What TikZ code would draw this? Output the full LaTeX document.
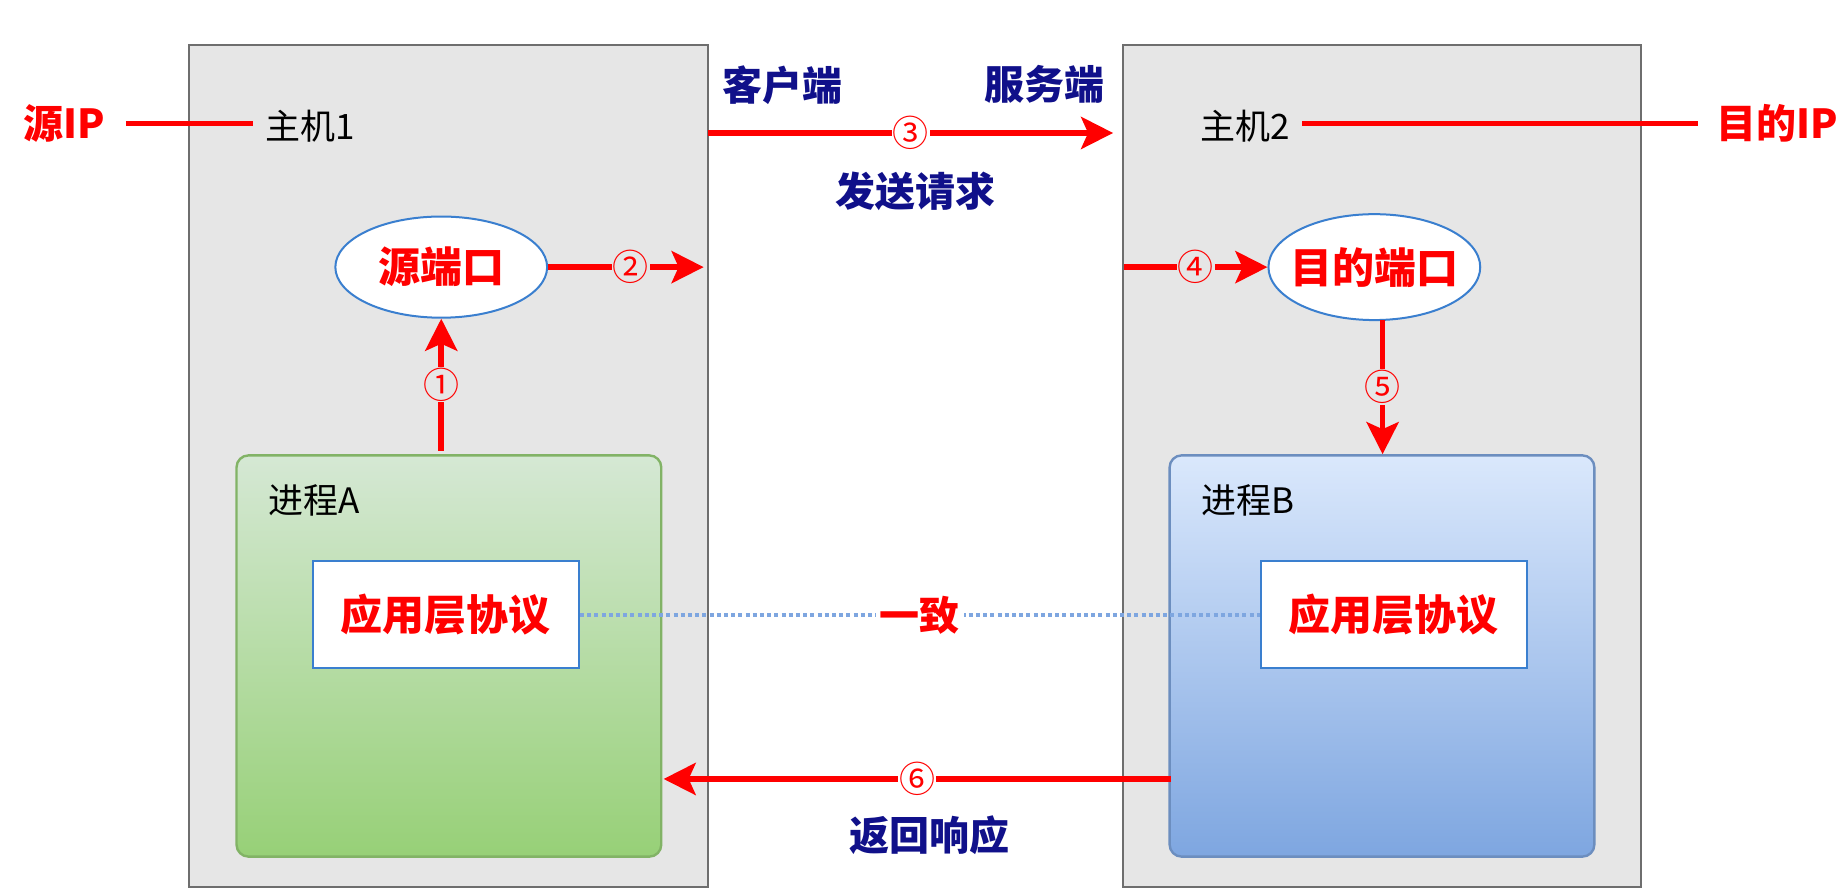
\documentclass[tikz,border=0pt]{standalone}
\usepackage{fontspec}
\setmainfont{Noto Sans CJK SC}
\usetikzlibrary{shapes.geometric,arrows.meta}
\definecolor{hostgray}{HTML}{E6E6E6}
\definecolor{hostedge}{HTML}{6E6E6E}
\definecolor{navy}{HTML}{10108A}
\definecolor{rd}{HTML}{FF0000}
\definecolor{elblue}{HTML}{3A7FCF}
\definecolor{greentop}{HTML}{D5E8D4}
\definecolor{greenbot}{HTML}{97D077}
\definecolor{greenedge}{HTML}{82B366}
\definecolor{bluetop}{HTML}{DAE8FC}
\definecolor{bluebot}{HTML}{7EA6E0}
\definecolor{blueedge}{HTML}{6C8EBF}
\definecolor{dotblue}{HTML}{7EA6E0}
\newcommand\pxl[1]{#1*0.5883pt}
\tikzset{
  hostbox/.style={draw=hostedge, fill=hostgray, line width=1pt, rectangle, inner sep=0pt},
  procA/.style={draw=greenedge, top color=greentop, bottom color=greenbot, line width=1.2pt, rounded corners=6pt, rectangle, inner sep=0pt},
  procB/.style={draw=blueedge, top color=bluetop, bottom color=bluebot, line width=1.2pt, rounded corners=6pt, rectangle, inner sep=0pt},
  appbox/.style={draw=elblue, fill=white, line width=1pt, rectangle, inner sep=0pt,
    minimum width=\pxl{226}, minimum height=\pxl{91}, text=rd, font=\fontsize{21pt}{24pt}\selectfont\bfseries},
  portel/.style={ellipse, draw=elblue, fill=white, line width=1pt, inner sep=0pt,
    minimum width=\pxl{180}, minimum height=\pxl{86}},
  porttext/.style={text=rd, font=\fontsize{21pt}{24pt}\selectfont\bfseries, inner sep=0pt},
  redlbl/.style={text=rd, font=\fontsize{20pt}{24pt}\selectfont\bfseries, inner sep=0pt},
  navylbl/.style={text=navy, font=\fontsize{20pt}{24pt}\selectfont\bfseries, inner sep=0pt},
  plainlbl/.style={text=black, font=\fontsize{17.5pt}{20pt}\selectfont, inner sep=0pt},
  flow/.style={draw=rd, line width=2.8pt, -{Stealth[length=16pt,width=16pt,inset=3.5pt]}},
  ipline/.style={draw=rd, line width=2.2pt},
  num/.style={text=rd, font=\fontsize{18pt}{20pt}\selectfont, inner sep=0.5pt},
}
\begin{document}
\begin{tikzpicture}[x=0.5883pt, y=-0.5883pt]
\useasboundingbox (0,0) rectangle (1568,756);
% hosts
\node[hostbox, minimum width=\pxl{441}, minimum height=\pxl{716}] (h1) at (381.5,396) {};
\node[hostbox, minimum width=\pxl{441}, minimum height=\pxl{716}] (h2) at (1174.5,396) {};
% processes
\node[procA, minimum width=\pxl{361}, minimum height=\pxl{341}] (pA) at (381.5,557.5) {};
\node[procB, minimum width=\pxl{361}, minimum height=\pxl{341}] (pB) at (1174.5,557.5) {};
\node[plainlbl, anchor=west] (pAl) at (228,425) {进程A};
\node[plainlbl, anchor=west] (pBl) at (1021,425) {进程B};
% app protocol boxes
\node[appbox] (appA) at (379,522.5) {应用层协议};
\node[appbox] (appB) at (1184.5,522.5) {应用层协议};
% ports
\node[portel] (sp) at (375,227) {};
\node[porttext] (spt) at (sp.center) {源端口};
\node[portel, minimum height=\pxl{90}] (dp) at (1168,227) {};
\node[porttext] (dpt) at (dp.center) {目的端口};
% host labels and IP
\node[plainlbl, anchor=west] (m1) at (225,107) {主机1};
\node[plainlbl, anchor=west] (m2) at (1020,107) {主机2};
\node[redlbl] (sip) at (55,105) {源IP};
\node[redlbl] (dip) at (1510,105) {目的IP};
\draw[ipline, shorten <=10pt, shorten >=6pt] (sip.east) -- (sip.east -| m1.west);
\draw[ipline, shorten <=6pt, shorten >=9pt] (m2.east |- dip.west) -- (dip.west);
% side labels
\node[navylbl] (cli) at (665,72) {客户端};
\node[navylbl] (srv) at (888,72) {服务端};
\node[navylbl] (req) at (778,163) {发送请求};
\node[navylbl] (resp) at (790,710) {返回响应};
% coordinates
\coordinate (a1s) at (375,383);
\coordinate (a2e) at (598,227);
\coordinate (a3s) at (602,113);
\coordinate (a3e) at (946,113);
\coordinate (a4s) at (955,227);
\coordinate (a5s) at (1175,272);
\coordinate (a5e) at (1175,386);
\coordinate (a6s) at (995,662);
\coordinate (a6e) at (564,662);
% arrows
\draw[flow] (a1s) -- (sp.south) node[num, fill=hostgray, pos=0.5] {①};
\draw[flow] (sp.east) -- (a2e) node[num, fill=hostgray, pos=0.53] {②};
\draw[flow] (a3s) -- (a3e) node[num, fill=white, pos=0.5] {③};
\draw[flow] (a4s) -- (dp.west) node[num, fill=hostgray, pos=0.5] {④};
\draw[flow] (a5s) -- (a5e) node[num, fill=hostgray, pos=0.5] {⑤};
\draw[flow] (a6s) -- (a6e) node[num, fill=white, pos=0.5] {⑥};
% consistency line
\draw[draw=dotblue, line width=2.2pt, dash pattern=on 2pt off 1.6pt] (appA.east) -- (appB.west)
  node[redlbl, fill=white, inner sep=2pt, pos=0.5] (yz) {一致};
\end{tikzpicture}
\end{document}
